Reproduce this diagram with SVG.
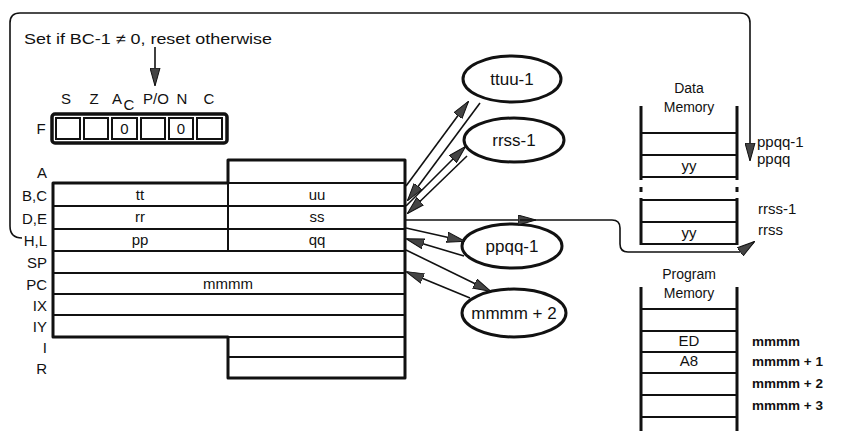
<svg xmlns="http://www.w3.org/2000/svg" width="844" height="431" viewBox="0 0 844 431">
<defs>
<style>
text{font-family:"Liberation Sans",Arial,sans-serif;font-size:15px;fill:#111}
.b{font-weight:bold;font-size:13.5px}
.m{font-size:14px}
.e{font-size:17px}
.thick{fill:none;stroke:#111;stroke-width:3}
.thin{fill:none;stroke:#111;stroke-width:2}
.con{fill:none;stroke:#111;stroke-width:1.6}
.ell{fill:#fff;stroke:#111;stroke-width:3}
</style>
<marker id="ah" viewBox="0 0 18 11" refX="17" refY="5.5" markerWidth="18" markerHeight="11" markerUnits="userSpaceOnUse" orient="auto">
<path d="M0,0.5 L18,5.5 L0,10.5 Z" fill="#444" stroke="#111" stroke-width="1"/>
</marker>
</defs>
<rect width="844" height="431" fill="#fff"/>

<g id="flags">
<text x="24" y="44" font-size="16" textLength="248" lengthAdjust="spacingAndGlyphs">Set if BC-1 ≠ 0, reset otherwise</text>
<text x="66" y="104" text-anchor="middle" font-size="16">S</text>
<text x="94" y="104" text-anchor="middle" font-size="16">Z</text>
<text x="117" y="104" text-anchor="middle" font-size="16">A</text>
<text x="129" y="110" text-anchor="middle" font-size="16">C</text>
<text x="156" y="104" text-anchor="middle" font-size="16">P/O</text>
<text x="182" y="104" text-anchor="middle" font-size="16">N</text>
<text x="209" y="104" text-anchor="middle" font-size="16">C</text>
<text x="41" y="134" text-anchor="middle" font-size="16">F</text>
<rect x="52" y="114" width="175" height="29" rx="3" fill="none" stroke="#111" stroke-width="3.5"/>
<rect x="56" y="118" width="24" height="21" class="thin"/>
<rect x="84" y="118" width="24" height="21" class="thin"/>
<rect x="112" y="118" width="25" height="21" class="thin"/>
<rect x="141" y="118" width="24" height="21" class="thin"/>
<rect x="169" y="118" width="24" height="21" class="thin"/>
<rect x="197" y="118" width="25" height="21" class="thin"/>
<text x="124.5" y="134" text-anchor="middle">0</text>
<text x="181" y="134" text-anchor="middle">0</text>
</g>

<g id="registers">
<path d="M53,183 L228,183 L228,160 L405,160 L405,378 L228,378 L228,337 L53,337 Z" class="thick" stroke-linejoin="round"/>
<path d="M228,183 H405 M53,206 H405 M53,229 H405 M53,251 H405 M53,273 H405 M53,294 H405 M53,315 H405 M228,337 H405 M228,357 H405 M228,183 V251" class="thin"/>
<text x="47" y="178" text-anchor="end">A</text>
<text x="47" y="201" text-anchor="end">B,C</text>
<text x="47" y="224" text-anchor="end">D,E</text>
<text x="47" y="246" text-anchor="end">H,L</text>
<text x="47" y="268" text-anchor="end">SP</text>
<text x="47" y="290" text-anchor="end">PC</text>
<text x="47" y="311" text-anchor="end">IX</text>
<text x="47" y="332" text-anchor="end">IY</text>
<text x="47" y="353" text-anchor="end">I</text>
<text x="47" y="374" text-anchor="end">R</text>
<text x="140" y="200" text-anchor="middle">tt</text>
<text x="140" y="222" text-anchor="middle">rr</text>
<text x="140" y="245" text-anchor="middle">pp</text>
<text x="317" y="200" text-anchor="middle">uu</text>
<text x="317" y="222" text-anchor="middle">ss</text>
<text x="317" y="245" text-anchor="middle">qq</text>
<text x="228" y="289" text-anchor="middle" font-size="16">mmmm</text>
</g>

<g id="ttuu">
<ellipse cx="512" cy="79" rx="49" ry="23" class="ell"/>
<text x="512" y="85" text-anchor="middle" class="e">ttuu-1</text>
</g>
<g id="rrss">
<ellipse cx="514" cy="140" rx="50" ry="22" class="ell"/>
<text x="514" y="146" text-anchor="middle" class="e">rrss-1</text>
</g>
<g id="ppqq">
<ellipse cx="512" cy="246" rx="50" ry="22" class="ell"/>
<text x="512" y="252" text-anchor="middle" class="e">ppqq-1</text>
</g>
<g id="mmmm2">
<ellipse cx="514" cy="313" rx="52" ry="24" class="ell"/>
<text x="514" y="319" text-anchor="middle" class="e">mmmm + 2</text>
</g>

<g id="datamem">
<text x="689" y="93" text-anchor="middle" class="m">Data</text>
<text x="689" y="112" text-anchor="middle" class="m">Memory</text>
<path d="M641,106 V180 M737,106 V180 M641,198 V245 M737,198 V245" fill="none" stroke="#111" stroke-width="3"/>
<path d="M641,187 V192 M737,187 V192" fill="none" stroke="#111" stroke-width="3"/>
<path d="M641,133 H737 M641,155 H737 M641,177 H737 M641,200 H737 M641,222 H737 M641,244 H737" class="thin"/>
<text x="689" y="171" text-anchor="middle">yy</text>
<text x="689" y="238" text-anchor="middle">yy</text>
<text x="757" y="147">ppqq-1</text>
<text x="757" y="164">ppqq</text>
<text x="758" y="214">rrss-1</text>
<text x="758" y="235">rrss</text>
</g>

<g id="progmem">
<text x="689" y="279" text-anchor="middle" class="m">Program</text>
<text x="689" y="298" text-anchor="middle" class="m">Memory</text>
<path d="M641,287 V431 M737,287 V431" fill="none" stroke="#111" stroke-width="3"/>
<path d="M641,309 H737 M641,331 H737 M641,352 H737 M641,373 H737 M641,395 H737 M641,417 H737" class="thin"/>
<text x="689" y="346" text-anchor="middle">ED</text>
<text x="689" y="366" text-anchor="middle">A8</text>
<text x="752" y="346" class="b">mmmm</text>
<text x="752" y="366" class="b">mmmm + 1</text>
<text x="752" y="388" class="b">mmmm + 2</text>
<text x="752" y="410" class="b">mmmm + 3</text>
</g>

<g id="connectors">
<path d="M22,238 Q10,238 10,226 V23 Q10,13 20,13 H740 Q750,13 750,23 V160" class="con" marker-end="url(#ah)"/>
<path d="M155,47 V85" class="con" marker-end="url(#ah)"/>
<path d="M406,186 L468,102" class="con" marker-end="url(#ah)"/>
<path d="M480,103 L408,200" class="con" marker-end="url(#ah)"/>
<path d="M406,206 L465,147" class="con" marker-end="url(#ah)"/>
<path d="M467,156 L408,213" class="con" marker-end="url(#ah)"/>
<path d="M405,220 L535,220" class="con" marker-end="url(#ah)"/>
<path d="M520,220 H612 Q620,220 620,228 V244 Q620,252 628,252 H740 L754,242" class="con" marker-end="url(#ah)"/>
<path d="M406,228 L464,241" class="con" marker-end="url(#ah)"/>
<path d="M464,256 L407,239" class="con" marker-end="url(#ah)"/>
<path d="M406,250 L490,291" class="con" marker-end="url(#ah)"/>
<path d="M470,298 L407,272" class="con" marker-end="url(#ah)"/>
</g>
</svg>
